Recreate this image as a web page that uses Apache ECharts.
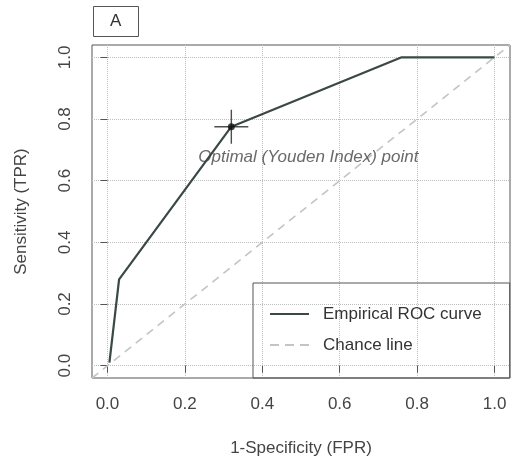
<!DOCTYPE html>
<html>
<head>
<meta charset="utf-8">
<script src="https://cdn.jsdelivr.net/npm/echarts@6/dist/echarts.min.js"></script>
<style>
  html, body { margin: 0; padding: 0; background: #fff; }
  #main { width: 513px; height: 462px; }
</style>
</head>
<body>
<div id="main"></div>
<script>
// ROC 曲线数据
const fpr = [0.005, 0.03, 0.32, 0.76, 1.0];   // 1-Specificity
const tpr = [0.01, 0.28, 0.775, 1.0, 1.0];    // Sensitivity
const chanceX = [-0.04, 1.04];                 // 对角线 (abline)
const optimalPoint = [0.32, 0.775];            // Youden 最优点
const tickValues = [0, 0.2, 0.4, 0.6, 0.8, 1.0];

const textColor = '#444';
const axisColor = '#555';
const rocColor = '#3a4847';
const chanceColor = '#c4c4c4';
const fontFamily = 'Liberation Sans, Arial, sans-serif';

const chart = echarts.init(document.getElementById('main'));

const option = {
  animation: false,
  title: {
    text: 'A',
    left: 93,
    top: 6,
    padding: [6, 17, 7, 17],
    borderColor: axisColor,
    borderWidth: 1,
    textStyle: { fontFamily, fontSize: 17, lineHeight: 18, fontWeight: 'normal', color: '#333' }
  },
  legend: {
    orient: 'vertical',
    left: 253,
    top: 283,
    padding: [21, 28, 23, 17],
    itemWidth: 39,
    itemHeight: 14,
    itemGap: 11,
    borderColor: axisColor,
    borderWidth: 1,
    textStyle: { fontFamily, fontSize: 17, lineHeight: 20, color: '#333', padding: [0, 0, 0, 9] },
    data: [
      { name: 'Empirical ROC curve', icon: 'path://M0,0H40V2H0Z', itemStyle: { color: rocColor } },
      { name: 'Chance line', icon: 'path://M0,0H9V2H0Z M15,0H24V2H15Z M30,0H39V2H30Z', itemStyle: { color: chanceColor } }
    ]
  },
  grid: {
    left: 92,
    top: 45,
    width: 418,
    height: 333,
    show: true,
    borderColor: axisColor,
    borderWidth: 1
  },
  xAxis: {
    type: 'value',
    min: -0.04,
    max: 1.04,
    name: '1-Specificity (FPR)',
    nameLocation: 'middle',
    nameGap: 62,
    nameTextStyle: { fontFamily, fontSize: 17, color: textColor },
    axisLine: { show: false },
    axisTick: { show: true, inside: false, length: 7, customValues: tickValues, lineStyle: { color: axisColor } },
    axisLabel: {
      customValues: tickValues,
      margin: 18,
      fontFamily, fontSize: 17, color: textColor,
      formatter: v => v.toFixed(1)
    },
    splitLine: { show: true, lineStyle: { color: '#bdbdbd', type: 'dotted' } }
  },
  yAxis: {
    type: 'value',
    min: -0.04,
    max: 1.04,
    name: 'Sensitivity (TPR)',
    nameLocation: 'middle',
    nameGap: 62,
    nameTextStyle: { fontFamily, fontSize: 17, color: textColor },
    axisLine: { show: false },
    axisTick: { show: true, inside: false, length: 7, customValues: tickValues, lineStyle: { color: axisColor } },
    axisLabel: {
      customValues: tickValues,
      rotate: 90,
      margin: 18,
      fontFamily, fontSize: 17, color: textColor,
      formatter: v => v.toFixed(1)
    },
    splitLine: { show: true, lineStyle: { color: '#bdbdbd', type: 'dotted' } }
  },
  series: [
    {
      name: 'Chance line',
      type: 'line',
      symbol: 'none',
      clip: true,
      data: chanceX.map(v => [v, v]),
      lineStyle: { color: chanceColor, width: 1.6, type: [8, 6] },
      itemStyle: { color: chanceColor },
      z: 2
    },
    {
      name: 'Empirical ROC curve',
      type: 'line',
      symbol: 'none',
      data: fpr.map((x, i) => [x, tpr[i]]),
      lineStyle: { color: rocColor, width: 2.2 },
      itemStyle: { color: rocColor },
      z: 3
    },
    {
      // 十字标记
      type: 'scatter',
      symbol: 'path://M0,16.3H34V17.7H0Z M16.3,0H17.7V34H16.3Z',
      symbolSize: 34,
      data: [optimalPoint],
      itemStyle: { color: '#222' },
      z: 4
    },
    {
      type: 'scatter',
      symbol: 'circle',
      symbolSize: 7,
      data: [optimalPoint],
      itemStyle: { color: '#111' },
      label: {
        show: true,
        position: 'inside',
        offset: [77, 31],
        formatter: 'Optimal (Youden Index) point',
        fontFamily, fontSize: 17, fontStyle: 'italic', color: textColor
      },
      z: 5
    }
  ]
};

chart.setOption(option);
</script>
</body>
</html>
